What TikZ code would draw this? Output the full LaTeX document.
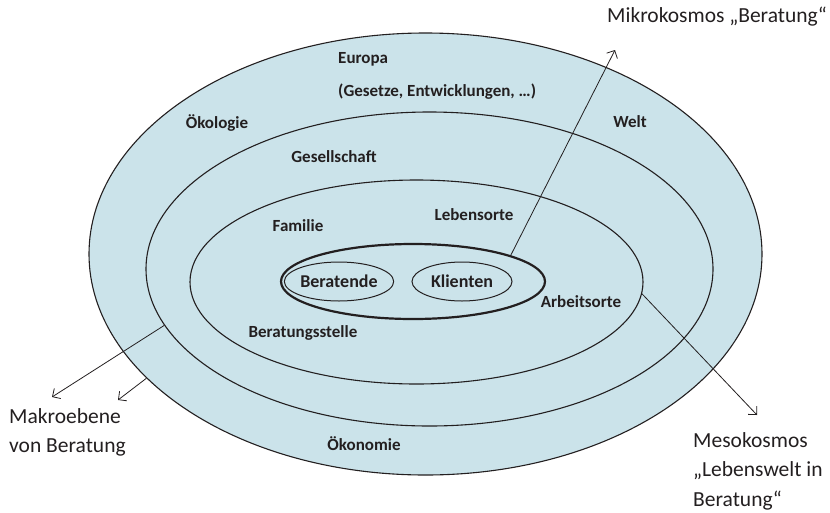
\documentclass[tikz,border=0pt]{standalone}
\usepackage{fontspec}
\setmainfont{Carlito}
\usetikzlibrary{shapes.geometric,arrows.meta}
\definecolor{fillblue}{RGB}{203,227,234}
\definecolor{ink}{RGB}{35,31,32}
\begin{document}
\begin{tikzpicture}[x=1pt,y=-1pt,
  ring/.style={ellipse,draw=ink,line width=1.1pt,fill=fillblue,inner sep=0pt},
  core/.style={ellipse,draw=ink,line width=2.2pt,inner sep=0pt},
  person/.style={ellipse,draw=ink,line width=1pt,inner sep=0pt,font=\fontsize{18}{20}\selectfont\bfseries,text=ink},
  lab/.style={font=\fontsize{17}{19}\selectfont\bfseries,text=ink,inner sep=0pt},
  outlab/.style={font=\fontsize{21.5}{29.5}\selectfont,text=ink,inner sep=0pt,align=left},
  pointer/.style={draw=ink,line width=0.8pt,-{Straight Barb[length=6pt,width=12pt]}}
]
\useasboundingbox (0,0) rectangle (830,512);
% rings
\node[ring,minimum width=673pt,minimum height=442pt] (outer) at (425.5,254) {};
\node[ring,minimum width=567pt,minimum height=314pt] (middle) at (429.5,269) {};
\node[ring,minimum width=453pt,minimum height=204pt] (inner) at (416.5,282) {};
\node[core,minimum width=264pt,minimum height=75pt] (core) at (413,281.5) {};
\node[person,minimum width=100pt,minimum height=39pt] (ber) at (339,281.5) {Beratende};
\node[person,minimum width=100pt,minimum height=39pt] (kli) at (462,281.5) {Klienten};
% ring labels
\node[lab,anchor=west] (europa) at (338,59) {Europa};
\node[lab,anchor=west] (gesetze) at (338,92) {(Gesetze, Entwicklungen, …)};
\node[lab] (oekol) at (217,123) {Ökologie};
\node[lab] (welt) at (630,122) {Welt};
\node[lab] (gesell) at (334,157) {Gesellschaft};
\node[lab] (familie) at (298,226) {Familie};
\node[lab] (lebens) at (474,215) {Lebensorte};
\node[lab] (arbeit) at (581,302) {Arbeitsorte};
\node[lab] (bstelle) at (303,333) {Beratungsstelle};
\node[lab] (oekon) at (364,444) {Ökonomie};
% outer labels
\node[outlab,anchor=west] (mikro) at (607,17) {Mikrokosmos „Beratung“};
\node[outlab,anchor=north west] (makro) at (9,408) {Makroebene\\von Beratung};
\node[outlab,anchor=north west] (meso) at (693,432) {Mesokosmos\\„Lebenswelt in\\Beratung“};
% arrow ends
\coordinate (mikrotip) at (615,50);
\coordinate (mesotip) at (757,415);
\coordinate (makrotipa) at (52,397);
\coordinate (makrotipb) at (118,400);
% pointers
\draw[pointer] (core.15) -- (mikrotip);
\draw[pointer] (inner.-3) -- (mesotip);
\draw[pointer] (middle.192.8) -- (makrotipa);
\draw[pointer] (outer.204.2) -- (makrotipb);
\end{tikzpicture}
\end{document}
